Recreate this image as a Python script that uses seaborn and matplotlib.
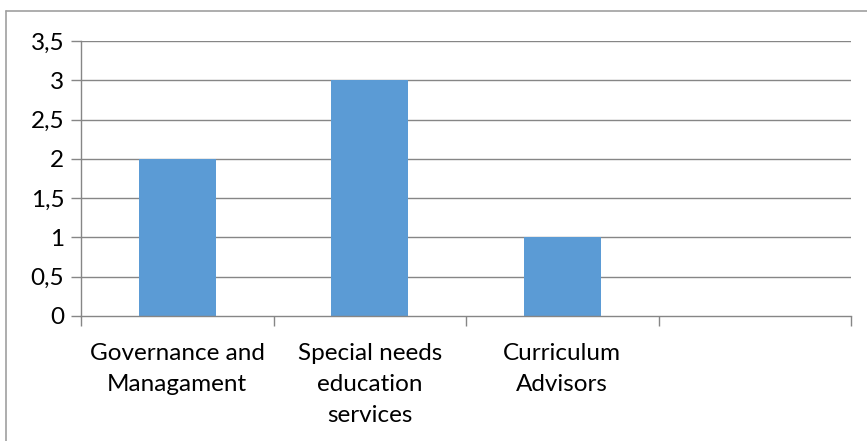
import matplotlib
matplotlib.use("Agg")
import matplotlib.pyplot as plt
import seaborn as sns
import pandas as pd
from matplotlib.lines import Line2D
from matplotlib.ticker import FuncFormatter

categories = ["Governance and\nManagament", "Special needs\neducation\nservices", "Curriculum\nAdvisors", ""]
values = [2, 3, 1, 0]
y_ticks = [0, 0.5, 1, 1.5, 2, 2.5, 3, 3.5]

sns.set_theme(style="white")
plt.rcParams["font.family"] = ["Lato", "DejaVu Sans"]

df = pd.DataFrame({"category": categories, "value": values})

W, H = 867, 441
fig = plt.figure(figsize=(W / 100, H / 100), dpi=100)
ax = fig.add_axes([81 / W, 1 - 316 / H, (851 - 81) / W, (316 - 41) / H])

sns.barplot(data=df, x="category", y="value", color="#5b9bd5", width=0.4,
            saturation=1, linewidth=0, ax=ax, zorder=3)

grid_c = "#868686"
ax.set_ylim(0, 3.5)
ax.set_xlim(-0.5, len(categories) - 0.5)
ax.set_yticks(y_ticks)
ax.yaxis.set_major_formatter(FuncFormatter(lambda v, p: f"{v:g}".replace(".", ",")))
for v in y_ticks[1:]:
    ax.axhline(v, color=grid_c, lw=1.0, zorder=1)

for s in ["top", "right"]:
    ax.spines[s].set_visible(False)
ax.spines["left"].set_color(grid_c)
ax.spines["bottom"].set_color(grid_c)
ax.spines["left"].set_linewidth(1.0)
ax.spines["bottom"].set_linewidth(1.0)
ax.spines["bottom"].set_zorder(4)

# category boundary ticks on the x axis
ax.set_xticks([i - 0.5 for i in range(len(categories) + 1)], minor=True)
ax.tick_params(axis="x", which="minor", bottom=True, length=7, color=grid_c, width=1.0,
               direction="out")
ax.tick_params(axis="x", which="major", bottom=True, length=0, labelsize=17.5, pad=19.5,
               labelcolor="black")
ax.tick_params(axis="y", which="major", left=True, length=7, color=grid_c, width=1.0,
               direction="out", labelsize=17.5, pad=5, labelcolor="black")
ax.set_xticklabels(categories, va="top", ha="center", linespacing=1.58)
ax.set_xlabel("")
ax.set_ylabel("")

# outer chart frame
fig.add_artist(Line2D([6 / W, 1.0], [1 - 11 / H, 1 - 11 / H], color="#a0a0a0", lw=1.2,
                      transform=fig.transFigure))
fig.add_artist(Line2D([6 / W, 6 / W], [1 - 11 / H, 0.0], color="#a0a0a0", lw=1.2,
                      transform=fig.transFigure))

fig.savefig("out.png", dpi=100)
